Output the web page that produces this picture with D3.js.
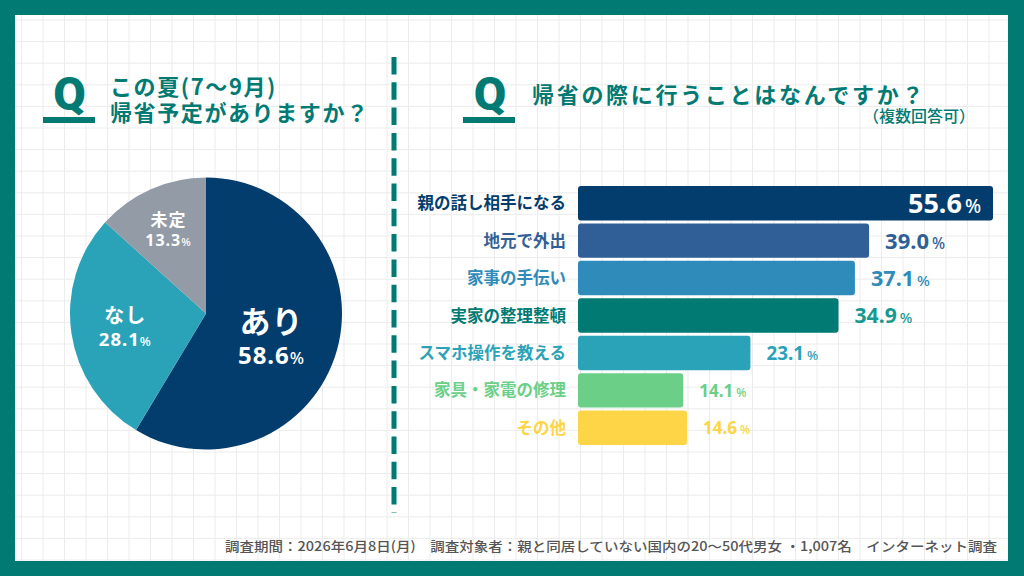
<!DOCTYPE html>
<html>
<head>
<meta charset="utf-8">
<script src="https://cdn.jsdelivr.net/npm/d3@7"></script>
<style>
  body { margin: 0; background: #fff; }
  svg { display: block; font-family: "Noto Sans CJK JP", "Noto Sans", sans-serif; }
</style>
</head>
<body>
<svg id="chart" width="1024" height="576"></svg>
<script>
// pie: 帰省予定
var pieLabels = ["あり", "なし", "未定"];
var pieValues = [58.6, 28.1, 13.3];

// bars: 帰省の際に行うこと
var barLabels = ["親の話し相手になる", "地元で外出", "家事の手伝い", "実家の整理整頓",
                 "スマホ操作を教える", "家具・家電の修理", "その他"];
var barValues = [55.6, 39.0, 37.1, 34.9, 23.1, 14.1, 14.6];

var titleLeft = ["この夏(7〜9月)", "帰省予定がありますか？"];
var titleRight = "帰省の際に行うことはなんですか？";
var titleNote = "（複数回答可）";
var footer = "調査期間：2026年6月8日(月)　調査対象者：親と同居していない国内の20〜50代男女 ・1,007名　インターネット調査";

var teal = "#017a73";
var pieColors = ["#033d6e", "#2aa3b9", "#929ba6"];
var barColors = ["#033d6e", "#305f97", "#2e8bba", "#017a73", "#2aa3b9", "#6bcf88", "#fdd546"];
var valColors = ["#ffffff", "#305f97", "#2e8bba", "#17998f", "#2aa3b9", "#6bcf88", "#fdd546"];

var svg = d3.select("#chart");

// frame + grid
svg.append("rect").attr("width", 1024).attr("height", 576).attr("fill", teal);
svg.append("rect").attr("x", 15).attr("y", 15).attr("width", 993).attr("height", 546).attr("fill", "#fff");

var grid = svg.append("g").attr("stroke", "#ececec").attr("stroke-width", 1);
grid.selectAll("line.v").data(d3.range(21.5, 1008, 21.5)).enter().append("line")
  .attr("x1", function(d) { return d; }).attr("x2", function(d) { return d; })
  .attr("y1", 15).attr("y2", 561);
grid.selectAll("line.h").data(d3.range(20, 561, 21.6)).enter().append("line")
  .attr("y1", function(d) { return d; }).attr("y2", function(d) { return d; })
  .attr("x1", 15).attr("x2", 1008);

// divider
svg.append("line")
  .attr("x1", 394).attr("x2", 394).attr("y1", 57).attr("y2", 513)
  .attr("stroke", teal).attr("stroke-width", 5)
  .attr("stroke-dasharray", "17.5,7.8");

// Q marks
var qMark = function(x, ux) {
  svg.append("text").attr("x", x).attr("y", 110)
    .attr("text-anchor", "middle")
    .attr("font-family", "Roboto, 'Noto Sans', sans-serif")
    .attr("font-weight", 900).attr("font-size", 47)
    .attr("fill", teal).text("Q");
  svg.append("rect").attr("x", ux).attr("y", 117).attr("width", 52).attr("height", 6).attr("fill", teal);
};
qMark(69.5, 43);
qMark(490, 463);

svg.selectAll("text.tl").data(titleLeft).enter().append("text")
  .attr("x", 110).attr("y", function(d, i) { return 95 + i * 26; })
  .attr("font-size", 22).attr("font-weight", 700).attr("letter-spacing", 1.6)
  .attr("fill", teal).text(function(d) { return d; });

svg.append("text").attr("x", 532).attr("y", 103)
  .attr("font-size", 22).attr("font-weight", 700).attr("letter-spacing", 2.7)
  .attr("fill", teal).text(titleRight);
svg.append("text").attr("x", 975).attr("y", 122).attr("text-anchor", "end")
  .attr("font-size", 16).attr("font-weight", 500)
  .attr("fill", teal).text(titleNote);

// pie
var cx = 206, cy = 313.5, r = 136;
var pie = d3.pie().sort(null)(pieValues);
var arc = d3.arc().innerRadius(0).outerRadius(r);
var labelR = [1.0, 1.2, 1.36];   // label arc factor per slice

var pg = svg.append("g").attr("transform", "translate(" + cx + "," + cy + ")");
pg.selectAll("path").data(pie).enter().append("path")
  .attr("d", arc)
  .attr("fill", function(d, i) { return pieColors[i]; });

var nameSize = d3.scaleLinear().domain([13.3, 28.1, 58.6]).range([17, 20, 31]);
var valSize = d3.scaleLinear().domain([13.3, 28.1, 58.6]).range([16, 18.5, 24]);

var pl = pg.selectAll("g.pl").data(pie).enter().append("g")
  .attr("transform", function(d, i) {
    var c = d3.arc().innerRadius(0).outerRadius(r * labelR[i]).centroid(d);
    return "translate(" + c[0] + "," + c[1] + ")";
  })
  .attr("fill", "#fff").attr("font-weight", 700).attr("text-anchor", "middle");
var nameY = function(d, i) { return i === 0 ? 1.5 : -3; };
pl.append("text")
  .attr("y", nameY)
  .attr("font-size", function(d) { return nameSize(d.value); })
  .attr("letter-spacing", 1)
  .text(function(d, i) { return pieLabels[i]; });
var pv = pl.append("text")
  .attr("y", function(d, i) { return nameY(d, i) + valSize(d.value) * 1.28; })
  .attr("font-family", "'Noto Sans', sans-serif")
  .attr("font-size", function(d) { return valSize(d.value); })
  .attr("letter-spacing", 1);
pv.append("tspan").text(function(d) { return d.value.toFixed(1); });
pv.append("tspan").attr("font-weight", 500)
  .attr("font-size", function(d) { return valSize(d.value) * 0.7; })
  .text("%");

// bars
var x = d3.scaleLinear().domain([0, 55.6]).range([578, 993]);
var y = d3.scaleBand().domain(barLabels).range([186, 445]).paddingInner(0.08).paddingOuter(0);
var fs = d3.scaleLinear().domain([14.1, 39, 55.6]).range([17, 22, 27]);

var bg = svg.append("g");
bg.selectAll("rect").data(barValues).enter().append("rect")
  .attr("x", x(0))
  .attr("y", function(d, i) { return y(barLabels[i]); })
  .attr("width", function(d) { return x(d) - x(0); })
  .attr("height", y.bandwidth())
  .attr("rx", 3)
  .attr("fill", function(d, i) { return barColors[i]; });

bg.selectAll("text.cat").data(barLabels).enter().append("text")
  .attr("x", 566)
  .attr("y", function(d) { return y(d) + y.bandwidth() / 2 + 6; })
  .attr("text-anchor", "end")
  .attr("font-size", 16.5).attr("font-weight", 700)
  .attr("fill", function(d, i) { return barColors[i]; })
  .text(function(d) { return d; });

var vt = bg.selectAll("text.val").data(barValues).enter().append("text")
  .attr("x", function(d, i) { return i === 0 ? x(d) - 12 : x(d) + 16; })
  .attr("y", function(d, i) { return y(barLabels[i]) + y.bandwidth() / 2 + fs(d) * 0.37; })
  .attr("text-anchor", function(d, i) { return i === 0 ? "end" : "start"; })
  .attr("font-family", "'Noto Sans', sans-serif")
  .attr("font-weight", 700)
  .attr("font-size", function(d) { return fs(d); })
  .attr("fill", function(d, i) { return valColors[i]; });
vt.append("tspan").text(function(d) { return d.toFixed(1); });
vt.append("tspan").attr("dx", 3).attr("font-weight", 500)
  .attr("font-size", function(d) { return fs(d) * 0.7; })
  .text("%");

// footer
svg.append("text").attr("x", 225).attr("y", 551)
  .attr("font-size", 13).attr("font-weight", 500)
  .attr("fill", "#555")
  .attr("textLength", 772).attr("lengthAdjust", "spacingAndGlyphs")
  .text(footer);
</script>
</body>
</html>
